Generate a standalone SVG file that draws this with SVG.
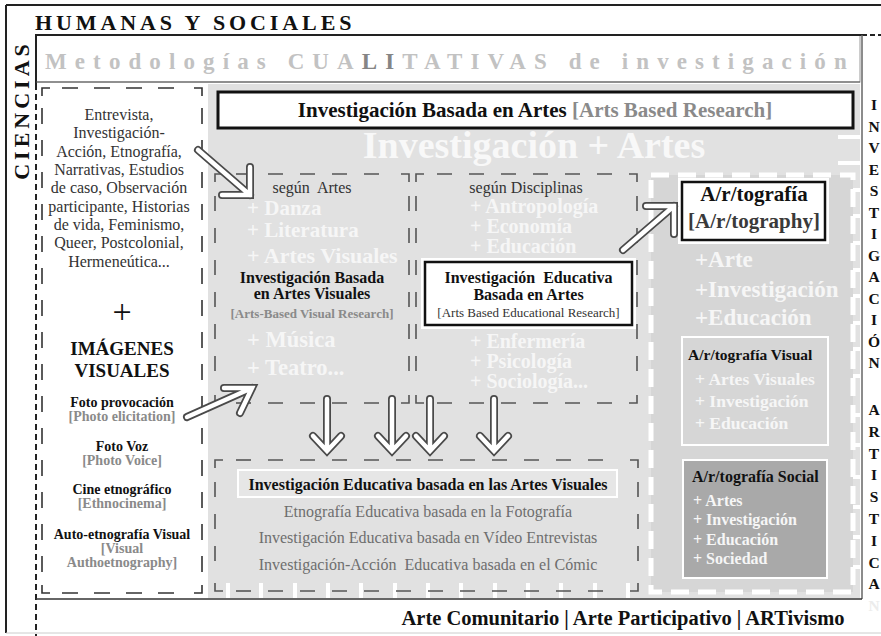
<svg xmlns="http://www.w3.org/2000/svg" width="881" height="636" viewBox="0 0 881 636">
<style>
text{font-family:"Liberation Serif","Times New Roman",serif;fill:#111}
.b{font-weight:bold}
.c{text-anchor:middle}
.wt{fill:#f6f6f6;font-weight:bold}
.gt{fill:#8a8a8a;font-weight:bold}
.dsh{fill:none;stroke:#555;stroke-width:1.6;stroke-dasharray:15 17}
.dshL{fill:none;stroke:#333;stroke-width:1.6;stroke-dasharray:16 16}
.cor{fill:none;stroke:#555;stroke-width:1.6}
.corL{fill:none;stroke:#333;stroke-width:1.6}
.arrO{fill:none;stroke:#4a4a4a;stroke-width:8;stroke-linecap:round;stroke-linejoin:miter}
.arrI{fill:none;stroke:#fff;stroke-width:4.5;stroke-linecap:round;stroke-linejoin:miter}
.side{font-weight:bold;font-size:15.5px;text-anchor:middle}
.tick{stroke:#fff;stroke-width:4}
</style>
<rect width="881" height="636" fill="#fff"/>

<g id="frame">
  <line x1="6" y1="5" x2="881" y2="5" stroke="#222" stroke-width="2"/>
  <line x1="6" y1="5" x2="6" y2="633" stroke="#222" stroke-width="2"/>
  <line x1="6" y1="633" x2="881" y2="633" stroke="#ccc" stroke-width="1"/>
  <text x="35" y="30" class="b" font-size="22" letter-spacing="3.9">HUMANAS Y SOCIALES</text>
  <text transform="translate(29,110) rotate(-90)" class="b c" font-size="22" letter-spacing="4">CIENCIAS</text>
</g>

<g id="cualitativas">
  <rect x="208" y="84" width="652" height="514" fill="#e1e1e1"/>
  <rect x="36" y="35" width="824" height="47" fill="#fff" stroke="#999" stroke-width="1"/>
  <line x1="36" y1="35" x2="862" y2="35" stroke="#222" stroke-width="2"/>
  <line x1="862" y1="35" x2="881" y2="35" stroke="#222" stroke-width="2" stroke-dasharray="5 3"/>
  <line x1="36" y1="34" x2="36" y2="84" stroke="#222" stroke-width="2"/>
  <line x1="36" y1="84" x2="36" y2="636" stroke="#222" stroke-width="2" stroke-dasharray="6 4"/>
  <line x1="862" y1="35" x2="862" y2="599" stroke="#666" stroke-width="1.5"/>
  <line x1="36" y1="599" x2="862" y2="599" stroke="#333" stroke-width="1.5"/>
  <line x1="36" y1="82" x2="860" y2="82" stroke="#555" stroke-width="1"/>
  <text x="45" y="69" class="b" font-size="23" letter-spacing="8.1" style="fill:#c2c2c2">Metodologías CUA<tspan style="fill:#858585">LI</tspan>TATIVAS de investigación</text>
</g>

<g id="ticks">
  <line class="tick" x1="838" y1="137" x2="861" y2="137"/>
  <line class="tick" x1="838" y1="163" x2="861" y2="163"/>
  <line class="tick" x1="838" y1="190" x2="861" y2="190"/>
  <line class="tick" x1="838" y1="216" x2="861" y2="216"/>
  <line class="tick" x1="838" y1="243" x2="861" y2="243"/>
  <line class="tick" x1="838" y1="270" x2="861" y2="270"/>
  <line class="tick" x1="838" y1="296" x2="861" y2="296"/>
  <line class="tick" x1="838" y1="323" x2="861" y2="323"/>
  <line class="tick" x1="838" y1="349" x2="861" y2="349"/>
  <line class="tick" x1="838" y1="376" x2="861" y2="376"/>
  <line class="tick" x1="838" y1="415" x2="861" y2="415"/>
  <line class="tick" x1="838" y1="445" x2="861" y2="445"/>
  <line class="tick" x1="838" y1="477" x2="861" y2="477"/>
  <line class="tick" x1="838" y1="507" x2="861" y2="507"/>
  <line class="tick" x1="838" y1="537" x2="861" y2="537"/>
  <line class="tick" x1="838" y1="567" x2="861" y2="567"/>
  <line class="tick" x1="228" y1="583" x2="228" y2="598"/>
  <line class="tick" x1="261" y1="583" x2="261" y2="598"/>
  <line class="tick" x1="295" y1="583" x2="295" y2="598"/>
  <line class="tick" x1="328" y1="583" x2="328" y2="598"/>
  <line class="tick" x1="361" y1="583" x2="361" y2="598"/>
  <line class="tick" x1="395" y1="583" x2="395" y2="598"/>
  <line class="tick" x1="428" y1="583" x2="428" y2="598"/>
  <line class="tick" x1="461" y1="583" x2="461" y2="598"/>
  <line class="tick" x1="495" y1="583" x2="495" y2="598"/>
  <line class="tick" x1="528" y1="583" x2="528" y2="598"/>
  <line class="tick" x1="561" y1="583" x2="561" y2="598"/>
  <line class="tick" x1="595" y1="583" x2="595" y2="598"/>
  <line class="tick" x1="628" y1="583" x2="628" y2="598"/>
</g>

<g id="side-label">
  <text class="side" x="874" y="110">I</text>
  <text class="side" x="874" y="131.5">N</text>
  <text class="side" x="874" y="153">V</text>
  <text class="side" x="874" y="174.5">E</text>
  <text class="side" x="874" y="196">S</text>
  <text class="side" x="874" y="217.5">T</text>
  <text class="side" x="874" y="239">I</text>
  <text class="side" x="874" y="260.5">G</text>
  <text class="side" x="874" y="282">A</text>
  <text class="side" x="874" y="303.5">C</text>
  <text class="side" x="874" y="325">I</text>
  <text class="side" x="874" y="346.5">Ó</text>
  <text class="side" x="874" y="368">N</text>
  <text class="side" x="874" y="415">A</text>
  <text class="side" x="874" y="436.8">R</text>
  <text class="side" x="874" y="458.6">T</text>
  <text class="side" x="874" y="480.4">I</text>
  <text class="side" x="874" y="502.2">S</text>
  <text class="side" x="874" y="524">T</text>
  <text class="side" x="874" y="545.8">I</text>
  <text class="side" x="874" y="567.6">C</text>
  <text class="side" x="874" y="589.4">A</text>
  <text class="side" x="874" y="611" style="fill:#ececec">N</text>
</g>

<g id="metodos">
  <path class="corL" d="M42,96 V88 H50 M194,88 H202 V96 M42,585 V593 H50 M194,593 H202 V585"/>
  <line class="dshL" x1="62" y1="88" x2="184" y2="88"/>
  <line class="dshL" x1="62" y1="593" x2="184" y2="593"/>
  <line class="dshL" x1="42" y1="108" x2="42" y2="575"/>
  <line class="dshL" x1="202" y1="108" x2="202" y2="575"/>
  <text x="119" y="120" class="c" font-size="16" style="fill:#333">Entrevista,</text>
  <text x="119" y="138.3" class="c" font-size="16" style="fill:#333">Investigación-</text>
  <text x="119" y="156.6" class="c" font-size="16" style="fill:#333">Acción, Etnografía,</text>
  <text x="119" y="175" class="c" font-size="16" style="fill:#333">Narrativas, Estudios</text>
  <text x="119" y="193.3" class="c" font-size="16" style="fill:#333">de caso, Observación</text>
  <text x="119" y="211.6" class="c" font-size="16" style="fill:#333">participante, Historias</text>
  <text x="119" y="230" class="c" font-size="16" style="fill:#333">de vida, Feminismo,</text>
  <text x="119" y="248.3" class="c" font-size="16" style="fill:#333">Queer, Postcolonial,</text>
  <text x="119" y="266.6" class="c" font-size="16" style="fill:#333">Hermeneútica...</text>
  <text x="122" y="323" class="c" font-size="34">+</text>
  <text x="122" y="355" class="b c" font-size="19">IMÁGENES</text>
  <text x="122" y="377" class="b c" font-size="19">VISUALES</text>
  <text x="122" y="407" class="b c" font-size="14">Foto provocación</text>
  <text x="122" y="421" class="gt c" font-size="14">[Photo elicitation]</text>
  <text x="122" y="451" class="b c" font-size="14">Foto Voz</text>
  <text x="122" y="465" class="gt c" font-size="14">[Photo Voice]</text>
  <text x="122" y="494" class="b c" font-size="14">Cine etnográfico</text>
  <text x="122" y="508" class="gt c" font-size="14">[Ethnocinema]</text>
  <text x="122" y="539" class="b c" font-size="14">Auto-etnografía Visual</text>
  <text x="122" y="553" class="gt c" font-size="14">[Visual</text>
  <text x="122" y="567" class="gt c" font-size="14">Authoetnography]</text>
</g>

<g id="iba">
  <rect x="218" y="92" width="635" height="36" fill="#fff" stroke="#111" stroke-width="3"/>
  <text x="535" y="117" class="b c" font-size="21">Investigación Basada en Artes <tspan style="fill:#8a8a8a">[Arts Based Research]</tspan></text>
  <text x="534" y="158" class="b c" font-size="38" style="fill:#f8f8f8">Investigación + Artes</text>
</g>

<g id="segun-artes">
  <path class="cor" d="M215,182 V174 H223 M401,174 H409 V182 M215,395 V403 H223 M401,403 H409 V395"/>
  <line class="dsh" x1="236" y1="174" x2="390" y2="174"/>
  <line class="dsh" x1="236" y1="403" x2="390" y2="403"/>
  <line class="dsh" x1="215" y1="196" x2="215" y2="385"/>
  <line class="dsh" x1="409" y1="196" x2="409" y2="385"/>
  <text x="312" y="193" class="c" font-size="16" style="fill:#333">según&#160; Artes</text>
  <text x="247" y="215" class="wt" font-size="21">+ Danza</text>
  <text x="247" y="237" class="wt" font-size="21">+ Literatura</text>
  <text x="247" y="263" class="wt" font-size="22">+ Artes Visuales</text>
  <text x="312" y="283" class="b c" font-size="16">Investigación Basada</text>
  <text x="312" y="299" class="b c" font-size="16">en Artes Visuales</text>
  <text x="312" y="318" class="gt c" font-size="13">[Arts-Based Visual Research]</text>
  <text x="247" y="347" class="wt" font-size="22.5">+ Música</text>
  <text x="247" y="375" class="wt" font-size="22.5">+ Teatro...</text>
</g>

<g id="segun-disciplinas">
  <path class="cor" d="M416,182 V174 H424 M629,174 H637 V182 M416,395 V403 H424 M629,403 H637 V395"/>
  <line class="dsh" x1="437" y1="174" x2="618" y2="174"/>
  <line class="dsh" x1="437" y1="403" x2="618" y2="403"/>
  <line class="dsh" x1="416" y1="196" x2="416" y2="385"/>
  <line class="dsh" x1="637" y1="196" x2="637" y2="385"/>
  <text x="526" y="193" class="c" font-size="16" style="fill:#333">según Disciplinas</text>
  <text x="470" y="213" class="wt" font-size="20">+ Antropología</text>
  <text x="470" y="233" class="wt" font-size="20">+ Economía</text>
  <text x="470" y="253" class="wt" font-size="20">+ Educación</text>
  <text x="470" y="348" class="wt" font-size="20">+ Enfermería</text>
  <text x="470" y="368" class="wt" font-size="20">+ Psicología</text>
  <text x="470" y="388" class="wt" font-size="20">+ Sociología...</text>
</g>

<g id="ieba">
  <rect x="421" y="258" width="215" height="71" fill="#fff"/>
  <rect x="425" y="262" width="207" height="63" fill="#fff" stroke="#111" stroke-width="2.5"/>
  <text x="528.5" y="283" class="b c" font-size="16">Investigación&#160; Educativa</text>
  <text x="528.5" y="300" class="b c" font-size="16">Basada en Artes</text>
  <text x="528.5" y="317" class="c" font-size="13" style="fill:#333">[Arts Based Educational Research]</text>
</g>

<g id="artografia">
  <rect x="651" y="175" width="202" height="417" fill="#d6d6d6"/>
  <rect x="651" y="175" width="202" height="417" fill="none" stroke="#fff" stroke-width="5" stroke-dasharray="18 9"/>
  <rect x="678" y="178" width="151" height="66" fill="#fff"/>
  <rect x="682" y="182" width="143" height="58" fill="#fff" stroke="#111" stroke-width="2.5"/>
  <text x="754" y="201" class="b c" font-size="21">A/r/tografía</text>
  <text x="754" y="228" class="b c" font-size="21" style="fill:#3a3a3a">[A/r/tography]</text>
  <text x="695" y="267" class="wt" font-size="23">+Arte</text>
  <text x="695" y="297" class="wt" font-size="23">+Investigación</text>
  <text x="695" y="325" class="wt" font-size="23">+Educación</text>
</g>

<g id="artografia-visual">
  <rect x="682" y="337" width="146" height="108" fill="none" stroke="#fff" stroke-width="2"/>
  <text x="688" y="360" class="b" font-size="15.5">A/r/tografía Visual</text>
  <text x="695" y="385" class="wt" font-size="17.5">+ Artes Visuales</text>
  <text x="695" y="407" class="wt" font-size="17.5">+ Investigación</text>
  <text x="695" y="429" class="wt" font-size="17.5">+ Educación</text>
</g>

<g id="artografia-social">
  <rect x="683" y="460" width="144" height="118" fill="#a9a9a9" stroke="#fff" stroke-width="2"/>
  <text x="692" y="482" class="b" font-size="16">A/r/tografía Social</text>
  <text x="693" y="506" class="wt" font-size="16">+ Artes</text>
  <text x="693" y="525" class="wt" font-size="16">+ Investigación</text>
  <text x="693" y="545" class="wt" font-size="16">+ Educación</text>
  <text x="693" y="564" class="wt" font-size="16">+ Sociedad</text>
</g>

<g id="ieav">
  <path class="cor" d="M215,468 V460 H223 M630,460 H638 V468 M215,583 V591 H223 M630,591 H638 V583"/>
  <line class="dsh" x1="236" y1="460" x2="619" y2="460"/>
  <line class="dsh" x1="236" y1="591" x2="619" y2="591"/>
  <line class="dsh" x1="215" y1="482" x2="215" y2="573"/>
  <line class="dsh" x1="638" y1="482" x2="638" y2="573"/>
  <rect x="238" y="470" width="379" height="27" fill="#e6e6e6" stroke="#fff" stroke-width="2"/>
  <text x="428" y="490" class="b c" font-size="16">Investigación Educativa basada en las Artes Visuales</text>
  <text x="428" y="517" class="c" font-size="16" style="fill:#6e6e6e">Etnografía Educativa basada en la Fotografía</text>
  <text x="428" y="543" class="c" font-size="16" style="fill:#6e6e6e">Investigación Educativa basada en Vídeo Entrevistas</text>
  <text x="428" y="570" class="c" font-size="16" style="fill:#6e6e6e">Investigación-Acción&#160; Educativa basada en el Cómic</text>
</g>

<g id="caption">
  <text x="623" y="625" class="b c" font-size="20.5">Arte Comunitario | Arte Participativo | ARTivismo</text>
</g>

<g id="connectors">
  <path class="arrO" d="M198,150 L250,195 M222,195 L250,195 L250,167"/>
  <path class="arrI" d="M198,150 L250,195 M222,195 L250,195 L250,167"/>
  <path class="arrO" d="M187,417 L252,388 M224,388 L252,388 L240,413"/>
  <path class="arrI" d="M187,417 L252,388 M224,388 L252,388 L240,413"/>
  <path class="arrO" d="M623,250 L674,206 M646,206 L674,206 L674,234"/>
  <path class="arrI" d="M623,250 L674,206 M646,206 L674,206 L674,234"/>
  <path class="arrO" d="M327,399 V450 M313,436 L327,451 L341,436"/>
  <path class="arrI" d="M327,399 V450 M313,436 L327,451 L341,436"/>
  <path class="arrO" d="M392,399 V450 M378,436 L392,451 L406,436"/>
  <path class="arrI" d="M392,399 V450 M378,436 L392,451 L406,436"/>
  <path class="arrO" d="M430,399 V450 M416,436 L430,451 L444,436"/>
  <path class="arrI" d="M430,399 V450 M416,436 L430,451 L444,436"/>
  <path class="arrO" d="M494,399 V450 M480,436 L494,451 L508,436"/>
  <path class="arrI" d="M494,399 V450 M480,436 L494,451 L508,436"/>
</g>
</svg>
